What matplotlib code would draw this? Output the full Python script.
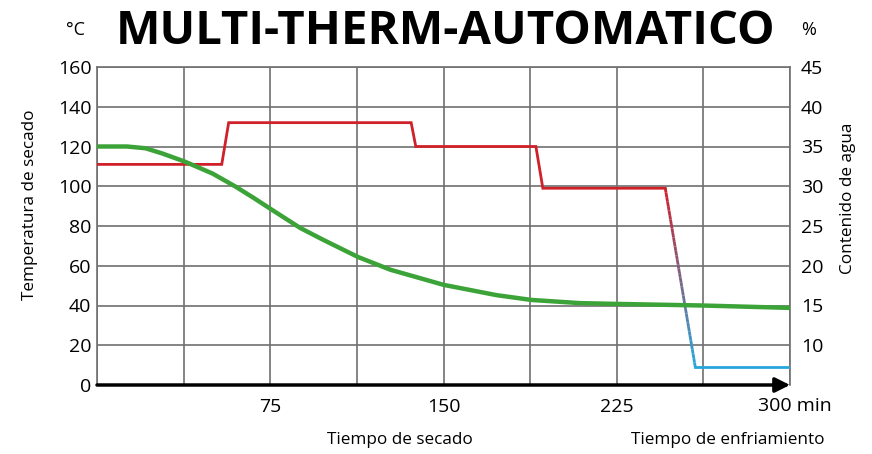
import numpy as np
import matplotlib.pyplot as plt
from matplotlib.collections import LineCollection
from matplotlib.colors import to_rgb

plt.rcParams['font.family'] = ['Open Sans', 'DejaVu Sans']

# Temperatura de secado (°C), eje izquierdo
temp_t = [0, 54, 57, 136, 138, 190, 193, 246]
temp_v = [111, 111, 132, 132, 120, 120, 99, 99]
# enfriamiento (°C)
cool_t = [246, 259, 300]
cool_v = [99, 9, 9]

# Contenido de agua (%), eje derecho
water_t = [0, 13, 21, 28, 38, 50, 60, 68, 77, 88, 98, 113, 127, 150, 173, 188, 209, 225, 262, 300]
water_v = [35, 35, 34.78, 34.15, 33.1, 31.6, 29.95, 28.5, 26.8, 24.75, 23.25, 21.1, 19.5, 17.6,
           16.3, 15.7, 15.3, 15.2, 15.0, 14.7]

x_ticks = np.arange(0, 301, 37.5)
x_labels = ['', '', '75', '', '150', '', '225', '', '']
left_ticks = np.arange(0, 161, 20)
right_ticks = np.arange(10, 46, 5)

red = '#d0202a'
blue = '#27a6dc'
green = '#3ba337'
grid_c = '#707070'

fig = plt.figure(figsize=(8.72, 4.54), dpi=100)
ax = fig.add_axes([97/872, 1-385/454, (790-97)/872, (385-67)/454])
ax.set_xlim(0, 300)
ax.set_ylim(0, 160)
ax.set_xticks(x_ticks)
ax.set_xticklabels(x_labels)
ax.set_yticks(left_ticks)
ax.grid(True, color=grid_c, lw=1.2)
ax.set_axisbelow(True)
ax.tick_params(length=0, labelsize=14)
ax.tick_params(axis='x', pad=9)
ax.tick_params(axis='y', pad=4)
for s in ['left', 'top', 'right']:
    ax.spines[s].set_color(grid_c)
    ax.spines[s].set_linewidth(1.2)
ax.spines['bottom'].set_visible(False)

ax.plot(temp_t, temp_v, color=red, lw=2, solid_joinstyle='miter', zorder=3)

# degradado rojo -> azul en la bajada
n = 40
fx = np.linspace(cool_t[0], cool_t[1], n + 1)
fy = np.linspace(cool_v[0], cool_v[1], n + 1)
segs = [[(fx[i], fy[i]), (fx[i+1], fy[i+1])] for i in range(n)]
c0, c1 = np.array(to_rgb(red)), np.array(to_rgb(blue))
cols = [c0 + (c1 - c0) * (i / (n - 1)) for i in range(n)]
ax.add_collection(LineCollection(segs, colors=cols, lw=2, zorder=3))
ax.plot(cool_t[1:], cool_v[1:], color=blue, lw=2, zorder=3)

ax.annotate('', xy=(1.0, 0), xytext=(0, 0), xycoords='axes fraction',
            arrowprops=dict(arrowstyle='-|>', color='black', lw=2.5, mutation_scale=22,
                            shrinkA=0, shrinkB=0), annotation_clip=False, zorder=5)

ax2 = ax.twinx()
ax2.set_ylim(5, 45)
ax2.set_yticks(right_ticks)
ax2.tick_params(length=0, labelsize=14, pad=8)
for s in ax2.spines.values():
    s.set_visible(False)
ax2.plot(water_t, water_v, color=green, lw=3.2, solid_capstyle='butt',
         solid_joinstyle='round', zorder=4)

def ftext(x, y, s, **kw):
    fig.text(x / 872, 1 - y / 454, s, **kw)

ftext(446, 31, 'MULTI-THERM-AUTOMATICO', fontsize=34, fontweight='bold', ha='center', va='center')
ftext(75, 30, '°C', fontsize=13, ha='center', va='center')
ftext(809, 30, '%', fontsize=13, ha='center', va='center')
ftext(30, 205, 'Temperatura de secado', fontsize=12.3, rotation=90, ha='center', va='center')
ftext(848, 198, 'Contenido de agua', fontsize=12.3, rotation=90, ha='center', va='center')
ftext(400, 440, 'Tiempo de secado', fontsize=12.3, ha='center', va='center')
ftext(728, 440, 'Tiempo de enfriamiento', fontsize=12.3, ha='center', va='center')
ftext(758, 406, '300 min', fontsize=14, ha='left', va='center')

fig.savefig('out.png', dpi=100)
